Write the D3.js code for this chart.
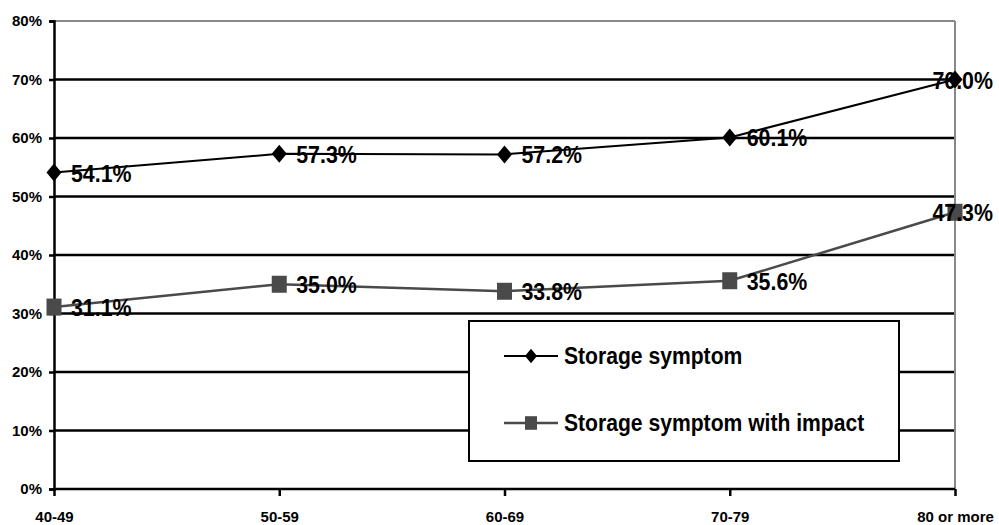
<!DOCTYPE html>
<html>
<head>
<meta charset="utf-8">
<script src="https://cdn.jsdelivr.net/npm/d3@7/dist/d3.min.js"></script>
<style>
  html, body { margin: 0; padding: 0; background: #fff; }
  svg { display: block; }
  text { font-family: "Liberation Sans", Arial, sans-serif; font-weight: bold; }
</style>
</head>
<body>
<svg id="chart" width="999" height="525"></svg>
<script>
const categories = ["40-49", "50-59", "60-69", "70-79", "80 or more"];
const storageSymptom = [54.1, 57.3, 57.2, 60.1, 70.0];
const storageSymptomImpact = [31.1, 35.0, 33.8, 35.6, 47.3];
const seriesNames = ["Storage symptom", "Storage symptom with impact"];
const yTicks = [0, 10, 20, 30, 40, 50, 60, 70, 80];

(function () {
const W = 999, H = 525;
const mLeft = 54, mRight = 955, mTop = 21, mBottom = 489;

const svg = d3.select("#chart");

const x = d3.scalePoint().domain(categories).range([mLeft, mRight]);
const y = d3.scaleLinear().domain([0, 80]).range([mBottom, mTop]);

// gridlines
svg.append("g").selectAll("line")
  .data(yTicks.filter(t => t > 0 && t < 80))
  .join("line")
  .attr("x1", mLeft).attr("x2", mRight)
  .attr("y1", d => y(d)).attr("y2", d => y(d))
  .attr("stroke", "#000").attr("stroke-width", 2.5);

// plot border top and right (gray)
svg.append("line").attr("x1", mLeft).attr("x2", mRight).attr("y1", y(80)).attr("y2", y(80))
  .attr("stroke", "#888").attr("stroke-width", 2);
svg.append("line").attr("x1", mRight).attr("x2", mRight).attr("y1", y(80)).attr("y2", mBottom)
  .attr("stroke", "#888").attr("stroke-width", 2);

// y axis
const yAxis = d3.axisLeft(y).tickValues(yTicks).tickFormat(d => d + "%").tickSize(5).tickPadding(7);
const gy = svg.append("g").attr("transform", `translate(${mLeft},0)`).call(yAxis);
gy.select(".domain").attr("stroke", "#000").attr("stroke-width", 2.5);
gy.selectAll(".tick line").attr("stroke", "#000").attr("stroke-width", 2.5);
gy.selectAll(".tick text").attr("fill", "#000").style("font-size", "15px")
  .style("font-family", "'Liberation Sans', Arial, sans-serif").style("font-weight", "bold");

// x axis
const xAxis = d3.axisBottom(x).tickSize(7).tickPadding(15);
const gx = svg.append("g").attr("transform", `translate(0,${mBottom})`).call(xAxis);
gx.select(".domain").attr("stroke", "#000").attr("stroke-width", 2.5).attr("d", `M${mLeft},0H${mRight}`);
gx.selectAll(".tick line").attr("stroke", "#000").attr("stroke-width", 2.5);
gx.selectAll(".tick text").attr("fill", "#000").style("font-size", "15px")
  .style("font-family", "'Liberation Sans', Arial, sans-serif").style("font-weight", "bold");

const series = [
  { name: seriesNames[0], values: storageSymptom, color: "#000", marker: "diamond", width: 2 },
  { name: seriesNames[1], values: storageSymptomImpact, color: "#4a4a4a", marker: "square", width: 2.5 }
];

const line = d3.line().x((d, i) => x(categories[i])).y(d => y(d));

function drawMarker(g, type, cx, cy, s, color) {
  if (type === "diamond") {
    g.append("path")
      .attr("d", `M${cx},${cy - 9 * s}L${cx + 7.5 * s},${cy}L${cx},${cy + 9 * s}L${cx - 7.5 * s},${cy}Z`)
      .attr("fill", color);
  } else {
    g.append("rect")
      .attr("x", cx - 7.5 * s).attr("y", cy - 8.5 * s)
      .attr("width", 15 * s).attr("height", 17 * s)
      .attr("fill", color);
  }
}

series.forEach(s => {
  const g = svg.append("g");
  g.append("path").datum(s.values).attr("d", line)
    .attr("fill", "none").attr("stroke", s.color).attr("stroke-width", s.width);
  s.values.forEach((v, i) => drawMarker(g, s.marker, x(categories[i]), y(v), 1, s.color));
});

// data labels
series.forEach(s => {
  s.values.forEach((v, i) => {
    const px = x(categories[i]), py = y(v);
    const t = svg.append("text")
      .text(v.toFixed(1) + "%")
      .attr("fill", "#000")
      .style("font-size", "24px");
    const sx = 0.89;
    const w = t.node().getComputedTextLength() * sx;
    let tx = px + 17;
    if (tx + w > W - 6) tx = W - 6 - w;
    t.attr("transform", `translate(${tx},${py + 9}) scale(${sx},1)`);
  });
});

// legend
const lg = svg.append("g");
lg.append("rect").attr("x", 469).attr("y", 321).attr("width", 430).attr("height", 140)
  .attr("fill", "#fff").attr("stroke", "#000").attr("stroke-width", 2);
const legendRows = [356, 423];
series.forEach((s, i) => {
  const yy = legendRows[i];
  lg.append("line").attr("x1", 504).attr("x2", 558).attr("y1", yy).attr("y2", yy)
    .attr("stroke", s.color).attr("stroke-width", s.width);
  drawMarker(lg, s.marker, 531, yy, 0.8, s.color);
  lg.append("text").text(s.name)
    .attr("transform", `translate(564,${yy + 8}) scale(0.88,1)`)
    .attr("fill", "#000").style("font-size", "24px");
});
})();
</script>
</body>
</html>
